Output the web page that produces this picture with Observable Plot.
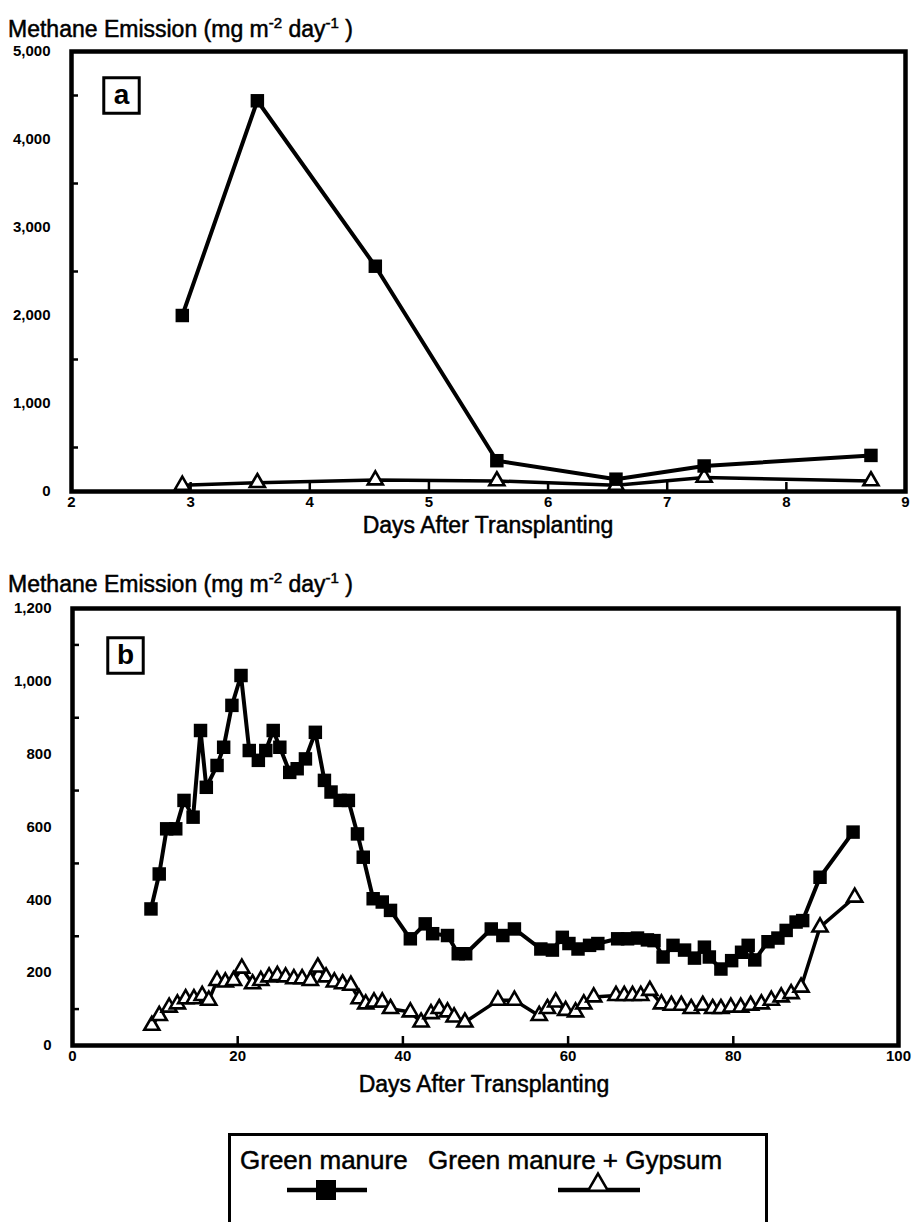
<!DOCTYPE html>
<html><head><meta charset="utf-8">
<script src="https://cdn.jsdelivr.net/npm/d3@7"></script>
<script src="https://cdn.jsdelivr.net/npm/@observablehq/plot@0.6"></script>
<style>
html,body{margin:0;padding:0;background:#fff;}
body{width:913px;height:1222px;overflow:hidden;position:relative;font-family:"Liberation Sans",Arial,sans-serif;color:#000;}
.abs{position:absolute;z-index:2;}
.ytitle{font-size:23px;white-space:nowrap;line-height:1.1;-webkit-text-stroke:0.5px #000;}
.ytitle sup{font-size:15px;}
.xtitle{font-size:23px;text-align:center;white-space:nowrap;line-height:26px;-webkit-text-stroke:0.5px #000;}
.legtext{font-size:26px;white-space:nowrap;line-height:1;-webkit-text-stroke:0.5px #000;}
</style></head><body>
<script>
// ---- Panel a data ----
const daysA = [2.93, 3.56, 4.55, 5.57, 6.57, 7.31, 8.71];
const greenManureA = [2000, 4440, 2560, 350, 140, 290, 410];
const gypsumA = [70, 100, 130, 120, 70, 160, 120];

// ---- Panel b data ----
const daysB_gm = [9.5, 10.5, 11.4, 12.5, 13.5, 14.6, 15.5, 16.2, 17.5, 18.3,
  19.3, 20.4, 21.4, 22.5, 23.4, 24.3, 25.1, 26.3, 27.2, 28.2,
  29.4, 30.5, 31.3, 32.4, 33.4, 34.5, 35.2, 36.4, 37.5, 38.5,
  40.9, 42.7, 43.6, 45.4, 46.7, 47.6,
  50.7, 52.1, 53.5,
  56.7, 58.1, 59.3, 60.1, 61.2, 62.6, 63.6,
  66.0, 67.2, 68.4, 69.6, 70.4,
  71.5, 72.7, 74.1, 75.3, 76.5, 77.1, 78.5, 79.8,
  81.0, 81.8, 82.6, 84.2, 85.4, 86.4, 87.6, 88.4,
  90.5, 94.5];
const greenManureB = [375, 471, 595, 595, 673, 627, 865, 709, 769, 819,
  934, 1016, 810, 783, 810, 865, 819, 750, 760, 787,
  860, 728, 696, 673, 673, 581, 517, 403, 394, 371,
  293, 334, 307, 302, 252, 252,
  320, 302, 320,
  265, 262, 297, 280, 265, 275, 280,
  293, 293, 295, 290, 288,
  243, 275, 262, 240, 270, 243, 210, 233,
  256, 275, 235, 285, 295, 316, 339, 343,
  462, 586];
const daysB_gy = [9.6, 10.5, 11.7, 12.7, 13.7, 14.7, 15.7, 16.5, 17.5, 18.5,
  19.5, 20.5, 21.8, 22.8, 23.8, 24.8, 25.8, 26.8, 27.8, 28.8,
  29.7, 30.7, 31.7, 32.7, 33.7, 34.7, 35.5, 36.5, 37.5, 38.5,
  40.9, 42.2, 43.4, 44.4, 45.4, 46.2, 47.5,
  51.5, 53.5,
  56.5, 57.5, 58.5, 59.7, 60.9, 61.9, 63.1,
  65.8, 66.8, 67.8, 68.8, 69.9,
  71.3, 72.5, 73.7, 74.9, 76.3, 77.5, 78.5, 79.7,
  80.9, 82.1, 83.4, 84.6, 85.8, 87.0, 88.2,
  90.5, 94.7];
const gypsumB = [55, 82, 105, 114, 128, 128, 137, 124, 178, 174,
  178, 212, 169, 178, 188, 192, 188, 183, 183, 178,
  215, 188, 174, 169, 165, 128, 114, 119, 119, 101,
  92, 64, 87, 101, 92, 78, 64,
  124, 124,
  82, 101, 119, 96, 92, 114, 133,
  137, 137, 137, 137, 151,
  114, 110, 110, 101, 110, 101, 101, 105,
  105, 110, 114, 124, 133, 142, 160,
  325, 407];

// ---- tick values ----
const xTicksA = [2, 3, 4, 5, 6, 7, 8, 9];
const xInnerTicksA = [3, 4, 5, 6, 7, 8];
const yTicksA = [0, 1000, 2000, 3000, 4000, 5000];
const yInnerTicksA = [500, 1500, 2500, 3500, 4500];
const xTicksB = [0, 20, 40, 60, 80, 100];
const xInnerTicksB = [20, 40, 60, 80];
const yTicksB = [0, 200, 400, 600, 800, 1000, 1200];
const yInnerTicksB = [100, 300, 500, 700, 900, 1100];

const seriesNames = ["Green manure", "Green manure + Gypsum"];
const yTitle = 'Methane Emission (mg m<sup>-2</sup> day<sup>-1</sup> )';
const xTitle = "Days After Transplanting";

function panel(o) {
  const gm = o.d1.map((d, i) => ({day: d, value: o.v1[i]}));
  const gy = o.d2.map((d, i) => ({day: d, value: o.v2[i]}));
  const fmt = d3.format(",");
  return Plot.plot({
    width: 913, height: o.height,
    marginLeft: o.ml, marginRight: o.mr, marginTop: o.mt, marginBottom: o.mb,
    style: {fontFamily: "'Liberation Sans', Arial, sans-serif", fontSize: "15px", fontWeight: "bold", color: "black", background: "transparent", overflow: "visible"},
    x: {domain: o.xDomain},
    y: {domain: o.yDomain},
    marks: [
      Plot.axisY({ticks: o.yTicks, tickSize: 0, tickPadding: 21, tickFormat: fmt, label: null}),
      Plot.axisY({ticks: o.yInner, tickSize: -7, tickFormat: () => "", label: null, strokeWidth: 2.5}),
      Plot.axisX({ticks: o.xTicks, tickSize: 0, tickPadding: 5, tickFormat: fmt, label: null}),
      Plot.axisX({ticks: o.xInner, tickSize: -9, tickFormat: () => "", label: null, strokeWidth: 2.5}),
      Plot.line(gy, {x: "day", y: "value", stroke: "black", strokeWidth: 3.5}),
      Plot.dot(gy, {x: "day", y: "value", symbol: "triangle", r: 5.6, fill: "white", stroke: "black", strokeWidth: 2.6}),
      Plot.line(gm, {x: "day", y: "value", stroke: "black", strokeWidth: 4}),
      Plot.dot(gm, {x: "day", y: "value", symbol: "square", r: 7.6, fill: "black"}),
      Plot.frame({stroke: "black", strokeWidth: 4.5}),
      Plot.dot([o.letter], {frameAnchor: "top-left", dx: o.ldx, dy: o.ldy, symbol: "square", r: 20, fill: "white", stroke: "black", strokeWidth: 3}),
      Plot.text([o.letter], {frameAnchor: "top-left", dx: o.ldx, dy: o.ldy, textAnchor: "middle", lineAnchor: "middle", fontSize: 28, fontWeight: "bold"})
    ]
  });
}

function place(el, left, top) {
  el.style.position = "absolute";
  el.style.left = left + "px";
  el.style.top = top + "px";
  document.body.appendChild(el);
  return el;
}
function div(cls, html, left, top, width) {
  const e = document.createElement("div");
  e.className = "abs " + cls;
  e.innerHTML = html;
  if (width) e.style.width = width + "px";
  return place(e, left, top);
}

// Panel a
div("ytitle", yTitle, 8, 15);
place(panel({d1: daysA, v1: greenManureA, d2: daysA, v2: gypsumA,
  xDomain: [2, 9], yDomain: [0, 5000], xTicks: xTicksA, xInner: xInnerTicksA,
  yTicks: yTicksA, yInner: yInnerTicksA, letter: "a", ldx: 50, ldy: 44,
  height: 480, ml: 71, mr: 8, mt: 10, mb: 30}), 0, 41);
div("xtitle", xTitle, 288, 512, 400);

// Panel b
div("ytitle", yTitle, 8, 570);
place(panel({d1: daysB_gm, v1: greenManureB, d2: daysB_gy, v2: gypsumB,
  xDomain: [0, 100], yDomain: [0, 1200], xTicks: xTicksB, xInner: xInnerTicksB,
  yTicks: yTicksB, yInner: yInnerTicksB, letter: "b", ldx: 53, ldy: 47,
  height: 480, ml: 72, mr: 15, mt: 10, mb: 33}), 0, 598);
div("xtitle", xTitle, 284, 1071, 400);

// Legend
const leg = document.createElement("div");
leg.style.cssText = "width:540px;height:120px;border:3px solid #000;border-bottom:none;box-sizing:border-box;background:#fff;";
place(leg, 228, 1133);
div("legtext", seriesNames[0], 240, 1147);
div("legtext", seriesNames[1], 428, 1147);
const svg = d3.create("svg").attr("width", 913).attr("height", 60)
  .style("position", "absolute").style("left", "0px").style("top", "1165px");
svg.append("line").attr("x1", 287).attr("x2", 367).attr("y1", 25).attr("y2", 25).attr("stroke", "black").attr("stroke-width", 4.5);
svg.append("rect").attr("x", 316).attr("y", 15).attr("width", 20).attr("height", 20).attr("fill", "black");
svg.append("line").attr("x1", 558).attr("x2", 640).attr("y1", 25).attr("y2", 25).attr("stroke", "black").attr("stroke-width", 4.5);
svg.append("path").attr("d", d3.symbol(d3.symbolTriangle, 170)()).attr("transform", "translate(598,20)")
  .attr("fill", "white").attr("stroke", "black").attr("stroke-width", 2.6);
document.body.appendChild(svg.node());
</script>
</body></html>
